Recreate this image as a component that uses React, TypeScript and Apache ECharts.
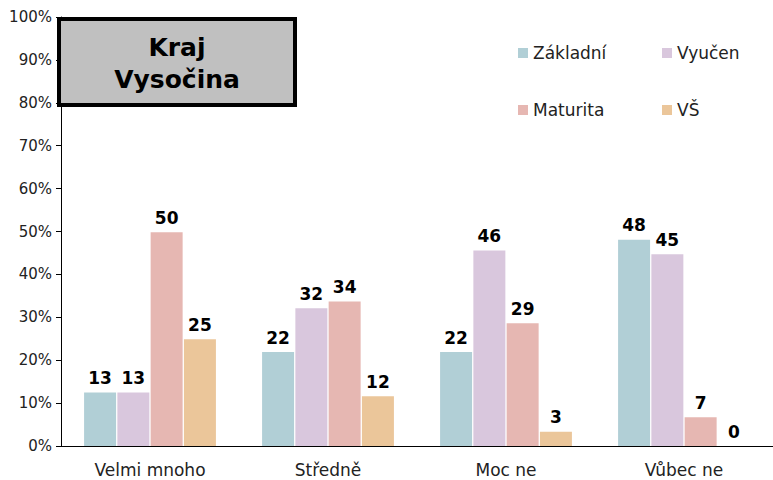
import React, { useEffect, useRef } from "react";
import * as echarts from "echarts";

const categories = ["Velmi mnoho", "Středně", "Moc ne", "Vůbec ne"];
const seriesNames = ["Základní", "Vyučen", "Maturita", "VŠ"];
const zakladni = [12.5, 21.9, 21.9, 48.1];
const vyucen = [12.5, 32.1, 45.6, 44.7];
const maturita = [49.8, 33.7, 28.6, 6.7];
const vs = [24.9, 11.6, 3.3, 0];
const colors = ["#b1cfd6", "#d9c7dd", "#e6b7b2", "#ebc69a"];
const titleLines = ["Kraj", "Vysočina"];

const FONT = "DejaVu Sans, Verdana, sans-serif";

export default function App() {
  const ref = useRef<HTMLDivElement>(null);
  useEffect(() => {
    document.body.style.margin = "0";
    if (!ref.current) return;
    const chart = echarts.init(ref.current, null, { renderer: "svg" });
    const values = [zakladni, vyucen, maturita, vs];
    const legendPos = [
      { left: 518, top: 43 },
      { left: 662, top: 43 },
      { left: 518, top: 100 },
      { left: 662, top: 100 },
    ];
    chart.setOption({
      animation: false,
      textStyle: { fontFamily: FONT },
      grid: { left: 61, top: 17, width: 724, height: 429, containLabel: false },
      legend: seriesNames.map((n, i) => ({
        data: [n],
        left: legendPos[i].left,
        top: legendPos[i].top,
        padding: 0,
        icon: "rect",
        itemWidth: 10,
        itemHeight: 10,
        itemGap: 5,
        selectedMode: false,
        textStyle: { fontSize: 17, color: "#222", fontFamily: FONT, lineHeight: 20, padding: [0, 0, 0, 0] },
      })),
      xAxis: {
        type: "category",
        data: categories,
        axisLine: { lineStyle: { color: "#000", width: 1 } },
        axisTick: { length: 5, lineStyle: { color: "#000" } },
        axisLabel: { fontSize: 17, color: "#222", margin: 15, fontFamily: FONT },
      },
      yAxis: {
        type: "value",
        min: 0,
        max: 100,
        interval: 10,
        axisLine: { show: true, lineStyle: { color: "#000", width: 1 } },
        axisTick: { show: true, length: 5, lineStyle: { color: "#000" } },
        splitLine: { show: false },
        axisLabel: { formatter: "{value}%", fontSize: 15, color: "#222", margin: 9, fontFamily: FONT },
      },
      series: seriesNames.map((n, i) => ({
        name: n,
        type: "bar",
        data: values[i],
        barWidth: 32,
        barGap: "4%",
        itemStyle: { color: colors[i] },
        label: {
          show: true,
          position: "top",
          distance: 6,
          fontSize: 17,
          fontWeight: "bold",
          color: "#000",
          fontFamily: FONT,
          formatter: (p: any) => String(Math.round(p.value)),
        },
      })),
      graphic: [
        {
          type: "rect",
          shape: { x: 59, y: 19, width: 236, height: 86 },
          style: { fill: "#c0c0c0", stroke: "#000", lineWidth: 4 },
          z: 100,
        },
        {
          type: "text",
          x: 177,
          y: 63,
          z: 101,
          style: {
            text: titleLines.join("\n"),
            fontSize: 25,
            fontWeight: "bold",
            fontFamily: FONT,
            fill: "#000",
            align: "center",
            verticalAlign: "middle",
            lineHeight: 32,
          },
        },
      ],
    });
    return () => chart.dispose();
  }, []);
  return <div ref={ref} style={{ width: 773, height: 480 }} />;
}
